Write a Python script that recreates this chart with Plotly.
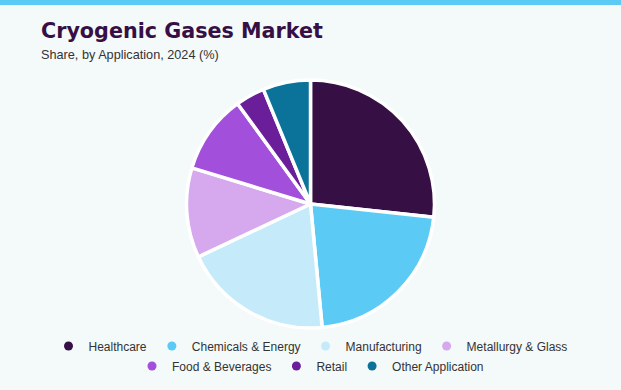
import plotly.graph_objects as go

labels = ["Healthcare", "Chemicals & Energy", "Manufacturing", "Metallurgy & Glass",
          "Food & Beverages", "Retail", "Other Application"]
shares = [26.7, 21.8, 19.5, 11.7, 10.3, 3.8, 6.2]
colors = ["#360F45", "#5BCBF5", "#C5EBFB", "#D6A8EE", "#A24FDB", "#6A1E9A", "#0B7399"]

W, H = 621, 390
BG = "#F4F9FA"

fig = go.Figure()
fig.add_trace(go.Pie(
    labels=labels, values=shares, sort=False, direction="clockwise", rotation=0,
    marker=dict(colors=colors, line=dict(color="white", width=3.5)),
    textinfo="none", hoverinfo="label+percent", showlegend=False,
    domain=dict(x=[0, 1], y=[1 - 328 / H, 1 - 80 / H]),
))

# legend entries (two centred rows)
for i, (lab, col) in enumerate(zip(labels, colors)):
    fig.add_trace(go.Scatter(
        x=[None], y=[None], mode="markers", name=lab,
        marker=dict(color=col, size=9, symbol="circle"),
        legend="legend" if i < 4 else "legend2", showlegend=True,
    ))

legend_common = dict(orientation="h", xanchor="center", x=0.5, yanchor="middle",
                     bgcolor="rgba(0,0,0,0)",
                     font=dict(family="Liberation Sans, Arial, sans-serif", size=12, color="#333333"),
                     itemclick=False, itemdoubleclick=False)

fig.update_layout(
    width=W, height=H,
    margin=dict(l=0, r=0, t=0, b=0),
    paper_bgcolor=BG, plot_bgcolor=BG,
    xaxis=dict(visible=False), yaxis=dict(visible=False),
    legend=dict(y=1 - 346 / H, **legend_common),
    legend2=dict(y=1 - 366 / H, **legend_common),
    shapes=[dict(type="rect", xref="paper", yref="paper", x0=0, x1=1,
                 y0=1 - 5 / H, y1=1, fillcolor="#5BCBF5", line=dict(width=0))],
    annotations=[
        dict(text="<b>Cryogenic Gases Market</b>", xref="paper", yref="paper",
             x=39 / W, y=1 - 31 / H, xanchor="left", yanchor="middle", showarrow=False,
             font=dict(family="DejaVu Sans, sans-serif", size=20.7, color="#360F45")),
        dict(text="Share, by Application, 2024 (%)", xref="paper", yref="paper",
             x=39 / W, y=1 - 55 / H, xanchor="left", yanchor="middle", showarrow=False,
             font=dict(family="Liberation Sans, Arial, sans-serif", size=12.7, color="#333333")),
    ],
)

fig.write_html("out.html", config={"displayModeBar": False},
               post_script="document.body.style.margin='0';document.body.style.padding='0';")
